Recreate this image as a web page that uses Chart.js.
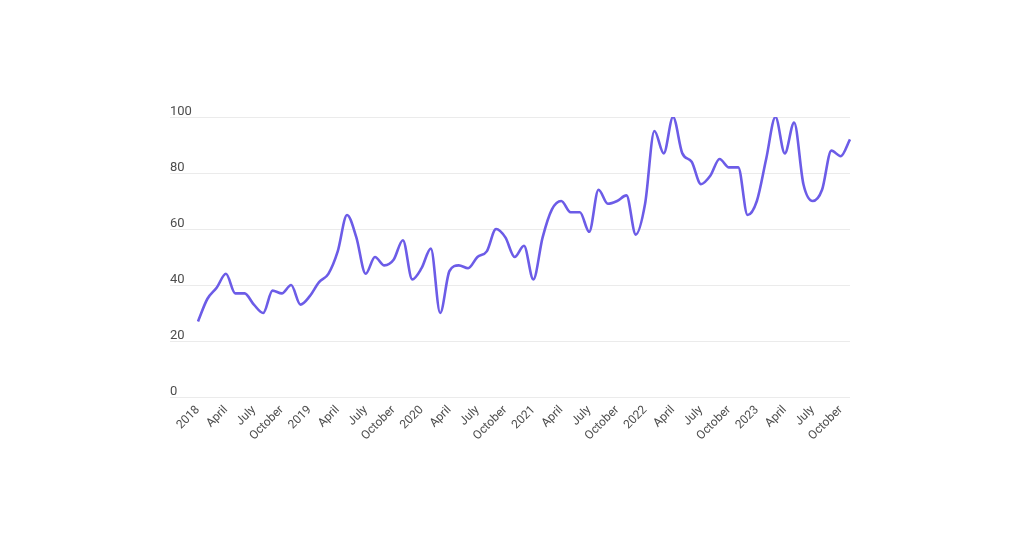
<!DOCTYPE html>
<html>
<head>
<meta charset="utf-8">
<script src="https://cdn.jsdelivr.net/npm/chart.js@4.4.0/dist/chart.umd.min.js"></script>
<style>
html,body{margin:0;padding:0;background:#ffffff;}
canvas{display:block;}
</style>
</head>
<body>
<canvas id="c" width="1024" height="536"></canvas>
<script>
const years = [2018, 2019, 2020, 2021, 2022, 2023];
const monthNames = ['January','February','March','April','May','June','July','August','September','October','November','December'];

const values2018 = [27, 35, 39, 44, 37, 37, 33, 30, 38, 37, 40, 33];
const values2019 = [36, 41, 44, 52, 65, 57, 44, 50, 47, 49, 56, 42];
const values2020 = [46, 53, 30, 45, 47, 46, 50, 52, 60, 57, 50, 54];
const values2021 = [42, 57, 67, 70, 66, 66, 59, 74, 69, 70, 72, 58];
const values2022 = [69, 95, 87, 100, 87, 84, 76, 79, 85, 82, 82, 65];
const values2023 = [70, 85, 100, 87, 98, 76, 70, 74, 88, 86, 92];

const yTicks = [0, 20, 40, 60, 80, 100];

const seriesValues = [].concat(values2018, values2019, values2020, values2021, values2022, values2023);
const categories = [];
years.forEach(y => monthNames.forEach(m => categories.push(m + ' ' + y)));
categories.length = seriesValues.length;

function tickText(i) {
  if (i % 3 !== 0) return null;
  const parts = categories[i].split(' ');
  return parts[0] === 'January' ? parts[1] : parts[0];
}

new Chart(document.getElementById('c'), {
  type: 'line',
  data: {
    labels: categories,
    datasets: [{
      data: seriesValues,
      borderColor: '#6c5ce7',
      borderWidth: 2.6,
      pointRadius: 0,
      fill: false,
      cubicInterpolationMode: 'monotone'
    }]
  },
  options: {
    responsive: false,
    animation: false,
    layout: { padding: { left: 170, right: 174, top: 117, bottom: 89 } },
    plugins: { legend: { display: false }, tooltip: { enabled: false } },
    scales: {
      x: {
        type: 'category',
        offset: false,
        grid: { display: false, drawTicks: false },
        border: { display: false },
        afterFit: s => { s.height = 50; },
        ticks: {
          autoSkip: false,
          minRotation: 45,
          maxRotation: 45,
          padding: 6,
          color: '#4d4d4d',
          font: { family: 'Roboto', size: 12 },
          callback: (v, i) => tickText(i)
        }
      },
      y: {
        min: 0,
        max: 100,
        afterFit: s => { s.width = 28; },
        afterBuildTicks: s => { s.ticks = yTicks.map(v => ({ value: v })); },
        grid: { color: '#ebebeb', lineWidth: 1, drawTicks: true, tickLength: 28, tickColor: '#ebebeb' },
        border: { display: false },
        ticks: {
          crossAlign: 'far',
          labelOffset: -5,
          color: '#4d4d4d',
          font: { family: 'Roboto', size: 13 }
        }
      }
    }
  }
});
</script>
</body>
</html>
